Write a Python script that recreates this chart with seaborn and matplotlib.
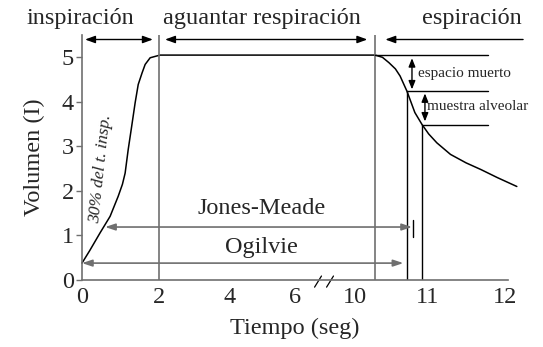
import numpy as np
import pandas as pd
import matplotlib
matplotlib.use("Agg")
import matplotlib.pyplot as plt
import seaborn as sns

# volume curve (seconds, litres)
t_curve = [0, 0.2, 0.47, 0.73, 0.94, 1.05, 1.12, 1.2, 1.29, 1.38, 1.46, 1.56, 1.64, 1.77, 1.94, 2.03,
           10.28, 10.38, 10.47, 10.56, 10.625, 10.72, 10.83, 10.93, 11.02, 11.125, 11.3, 11.5,
           11.69, 11.9, 12.15]
v_curve = [0.38, 0.66, 1.06, 1.43, 1.88, 2.15, 2.4, 2.93, 3.45, 3.98, 4.39, 4.65, 4.84, 4.99, 5.03, 5.05,
           5.05, 5.0, 4.88, 4.74, 4.58, 4.24, 3.76, 3.49, 3.28, 3.08, 2.82, 2.63,
           2.48, 2.3, 2.1]

x_ticks = [0, 2, 4, 6, 10, 11, 12]
y_ticks = [0, 1, 2, 3, 4, 5]

# broken time axis: tick value -> drawn distance
knots_t = [-1, 0, 2, 4, 6, 10, 11, 12, 13, 14]
knots_u = [-38.5, 0, 77, 148, 213, 273, 345, 423, 501, 579]
break_t = [7.53, 8.33]

phase_lines = [2, 10.28]
phases = ["inspiración", "aguantar respiración", "espiración"]
phase_centers = [-0.03, 4.98, 11.58]
phase_arrows = [(0.08, 1.84), (2.17, 10.17), (12.23, 10.42)]

end_dead = 10.72      # end of dead space
end_alv = 10.93       # end of alveolar sample
v_plateau = 5.05
v_dead = 4.24
v_alv = 3.49
ref_end = 11.78

jm_start, jm_end, jm_v = 0.6, 10.79, 1.19
og_start, og_end, og_v = 0.0, 10.67, 0.38

fwd = lambda t: np.interp(t, knots_t, knots_u)
inv = lambda u: np.interp(u, knots_u, knots_t)

sns.set_style("ticks")
plt.rcParams['font.family'] = ['Liberation Serif', 'DejaVu Serif']

big = 17.5
gray = "#6f6f6f"
fig = plt.figure(figsize=(5.43, 3.47), dpi=100)
ax = fig.add_axes([0.151, 0.193, 0.785, 0.706])
ax.set_xscale('function', functions=(fwd, inv))

df = pd.DataFrame({"t": t_curve, "v": v_curve})
sns.lineplot(data=df, x="t", y="v", ax=ax, color="black", lw=1.1, sort=False, clip_on=False)

ax.set_xlim(0, 12.04)
ax.set_ylim(0, 5.5)
ax.set_xticks(x_ticks)
ax.set_xticklabels([str(x) for x in x_ticks])
ax.set_yticks(y_ticks)
ax.tick_params(axis='x', length=0, labelsize=big, pad=5)
ax.tick_params(axis='y', length=4, width=1, color=gray, labelsize=big, pad=2)
for s in ["top", "right"]:
    ax.spines[s].set_visible(False)
for s in ["left", "bottom"]:
    ax.spines[s].set_color(gray)
    ax.spines[s].set_linewidth(1.2)

ax.set_xlabel("Tiempo (seg)", fontsize=big, labelpad=7)
ax.set_ylabel("Volumen (I)", fontsize=big, labelpad=12)

# phase boundaries
for x in phase_lines:
    ax.axvline(x, color=gray, lw=1.2)

# phase headers
for name, c in zip(phases, phase_centers):
    ax.text(c, 5.87, name, ha="center", va="center", fontsize=big, clip_on=False)
for i, (a, b) in enumerate(phase_arrows):
    style = '-|>,head_length=0.6,head_width=0.22' if i == 2 else '<|-|>,head_length=0.6,head_width=0.22'
    ax.annotate("", xy=(b, 5.4), xytext=(a, 5.4), annotation_clip=False,
                arrowprops=dict(arrowstyle=style, color="black", lw=1, shrinkA=0, shrinkB=0))

# reference lines on the expiration
ax.plot([phase_lines[1], ref_end], [v_plateau, v_plateau], color="black", lw=1)
ax.plot([end_dead, ref_end], [v_dead, v_dead], color="black", lw=1)
ax.plot([end_alv, ref_end], [v_alv, v_alv], color="black", lw=1)
ax.plot([end_dead, end_dead], [0, v_dead], color="black", lw=1)
ax.plot([end_alv, end_alv], [0, v_alv], color="black", lw=1)

vstyle = '<|-|>,head_length=0.5,head_width=0.2'
ax.annotate("", xy=(10.79, 4.28), xytext=(10.79, 4.98),
            arrowprops=dict(arrowstyle=vstyle, color="black", lw=1, shrinkA=0, shrinkB=0))
ax.annotate("", xy=(10.97, 3.56), xytext=(10.97, 4.19),
            arrowprops=dict(arrowstyle=vstyle, color="black", lw=1, shrinkA=0, shrinkB=0))
ax.text(10.88, 4.63, "espacio muerto", fontsize=11, va="center", ha="left")
ax.text(11.0, 3.89, "muestra alveolar", fontsize=11, va="center", ha="left", clip_on=False)

# Jones-Meade and Ogilvie spans
hstyle = '<|-|>,head_length=0.6,head_width=0.2'
ax.annotate("", xy=(jm_end, jm_v), xytext=(jm_start, jm_v),
            arrowprops=dict(arrowstyle=hstyle, color=gray, lw=1.2, shrinkA=0, shrinkB=0))
ax.plot([10.81, 10.81], [0.97, 1.35], color="black", lw=1)
ax.text(4.98, 1.6, "Jones-Meade", ha="center", va="center", fontsize=big)
ax.annotate("", xy=(og_end, og_v), xytext=(og_start, og_v), annotation_clip=False,
            arrowprops=dict(arrowstyle=hstyle, color=gray, lw=1.2, shrinkA=0, shrinkB=0))
ax.text(4.98, 0.74, "Ogilvie", ha="center", va="center", fontsize=big)

ax.text(0.49, 2.5, "30% del t. insp.", rotation=84, ha="center", va="center",
        fontsize=12.5, style="italic")

# axis break marks
for b in break_t:
    ax.plot([b - 0.23, b + 0.23], [-0.16, 0.09], color="black", lw=0.9, clip_on=False)

fig.savefig("out.png", dpi=100)
